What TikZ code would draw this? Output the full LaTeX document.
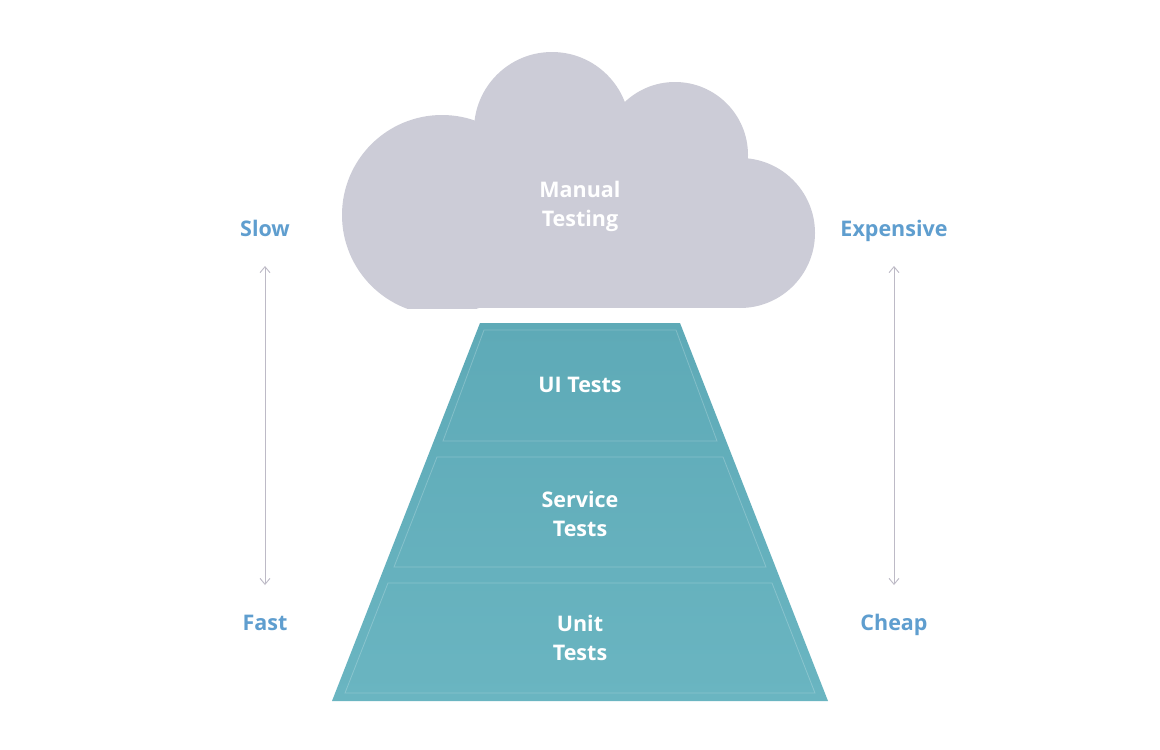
\documentclass[tikz,border=0pt]{standalone}
\usepackage{fontspec}
\setmainfont{Open Sans}
\usetikzlibrary{arrows.meta}
\definecolor{cloudc}{HTML}{CCCCD7}
\definecolor{pyrtop}{HTML}{5EAAB7}
\definecolor{pyrbot}{HTML}{6AB5C1}
\definecolor{labelc}{HTML}{5F9ECF}
\definecolor{arrowc}{HTML}{BDBAC6}
\tikzset{
  intext/.style={text=white, align=center, font=\fontsize{21.5}{29}\selectfont\bfseries},
  sidelabel/.style={text=labelc, anchor=base, font=\fontsize{21.5}{29}\selectfont\bfseries},
  scalearrow/.style={draw=arrowc, line width=0.9pt, {Straight Barb[length=6pt,width=10pt]}-{Straight Barb[length=6pt,width=10pt]}},
  bandline/.style={draw=white, draw opacity=0.22, line width=0.8pt},
}
\begin{document}
\begin{tikzpicture}[x=1pt,y=-1pt]
\useasboundingbox (0,0) rectangle (1160,750);
\fill[white] (0,0) rectangle (1160,750);
% cloud
\begin{scope}
  \clip (300,30) rectangle (850,308);
  \fill[cloudc] (442,215) circle[radius=100pt];
  \fill[cloudc] (552,130) circle[radius=78pt];
  \fill[cloudc] (675,155) circle[radius=73pt];
  \fill[cloudc] (740,233) circle[radius=75pt];
  \fill[cloudc] (440,150) rectangle (740,308);
\end{scope}
\node[intext] (manual) at (580,206) {Manual\\Testing};
% pyramid
\shade[top color=pyrtop, bottom color=pyrbot] (480,323) -- (680,323) -- (828,701) -- (332,701) -- cycle;
% bands (faint inner outlines)
\draw[bandline] (484,330) -- (676,330) -- (717,441) -- (443,441) -- cycle;
\draw[bandline] (437,457) -- (723,457) -- (766,567) -- (394,567) -- cycle;
\draw[bandline] (388,583) -- (772,583) -- (815,693) -- (345,693) -- cycle;
\node[intext] (ui) at (580,385) {UI Tests};
\node[intext] (service) at (580,514) {Service\\Tests};
\node[intext] (unit) at (580,638) {Unit\\Tests};
% side labels
\node[sidelabel] (slow) at (265,236) {Slow};
\node[sidelabel] (fast) at (265,630) {Fast};
\node[sidelabel] (expensive) at (894,236) {Expensive};
\node[sidelabel] (cheap) at (894,630) {Cheap};
\coordinate (lt) at (265,266);
\coordinate (lb) at (265,585);
\coordinate (rt) at (894,266);
\coordinate (rb) at (894,585);
\draw[scalearrow] (lt) -- (lb);
\draw[scalearrow] (rt) -- (rb);
\end{tikzpicture}
\end{document}
